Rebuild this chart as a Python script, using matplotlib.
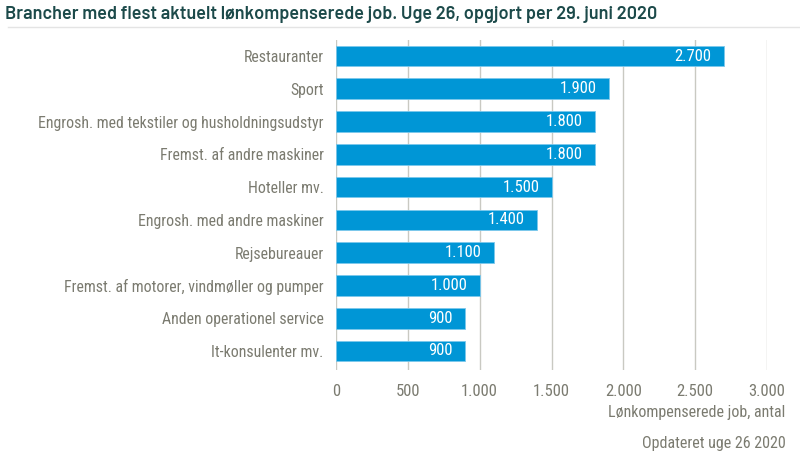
import matplotlib.pyplot as plt

categories = ['Restauranter', 'Sport', 'Engrosh. med tekstiler og husholdningsudstyr',
              'Fremst. af andre maskiner', 'Hoteller mv.', 'Engrosh. med andre maskiner',
              'Rejsebureauer', 'Fremst. af motorer, vindmøller og pumper',
              'Anden operationel service', 'It-konsulenter mv.']
values = [2700, 1900, 1800, 1800, 1500, 1400, 1100, 1000, 900, 900]
xticks = [0, 500, 1000, 1500, 2000, 2500, 3000]

plt.rcParams['font.family'] = ['Roboto Condensed', 'Archivo Narrow', 'DejaVu Sans']

gray = '#7b7b70'
blue = '#0096d6'

def fmt(v):
    return f"{v:,}".replace(',', '.')

fig = plt.figure(figsize=(8, 4.65), dpi=100)
ax = fig.add_axes([0.42, 0.2043, 0.53875, 0.7097])

ypos = list(range(len(categories)))
ax.barh(ypos, values, height=0.63, color=blue, edgecolor='#7cc8ec', linewidth=0.6, zorder=3)
for y, v in zip(ypos, values):
    ax.text(v - 85, y, fmt(v), ha='right', va='center', color='white', fontsize=12, zorder=4)

ax.set_xlim(0, 3000)
ax.set_ylim(9.58, -0.49)
ax.set_xticks(xticks)
ax.set_xticklabels([fmt(t) for t in xticks])
ax.set_yticks(ypos)
ax.set_yticklabels(categories)
ax.tick_params(axis='both', length=0, colors=gray)
ax.tick_params(axis='y', pad=9, labelsize=11.4)
ax.tick_params(axis='x', pad=10, labelsize=12)
ax.grid(axis='x', color='#c9c9c2', linewidth=1, zorder=0)
for s in ax.spines.values():
    s.set_visible(False)

fig.text(0.006, 0.968, 'Brancher med flest aktuelt lønkompenserede job. Uge 26, opgjort per 29. juni 2020',
         fontsize=13, fontweight='semibold', color='#1c4a4a', family=['Barlow', 'DejaVu Sans'],
         ha='left', va='center')
fig.add_artist(plt.Line2D([0.01, 1.0], [0.942, 0.942], color='#e4e4e4', linewidth=1))

fig.text(0.982, 0.112, 'Lønkompenserede job, antal', ha='right', va='center', color=gray, fontsize=11.5)
fig.text(0.982, 0.047, 'Opdateret uge 26 2020', ha='right', va='center', color=gray, fontsize=11.5)

fig.savefig('out.png', dpi=100)
